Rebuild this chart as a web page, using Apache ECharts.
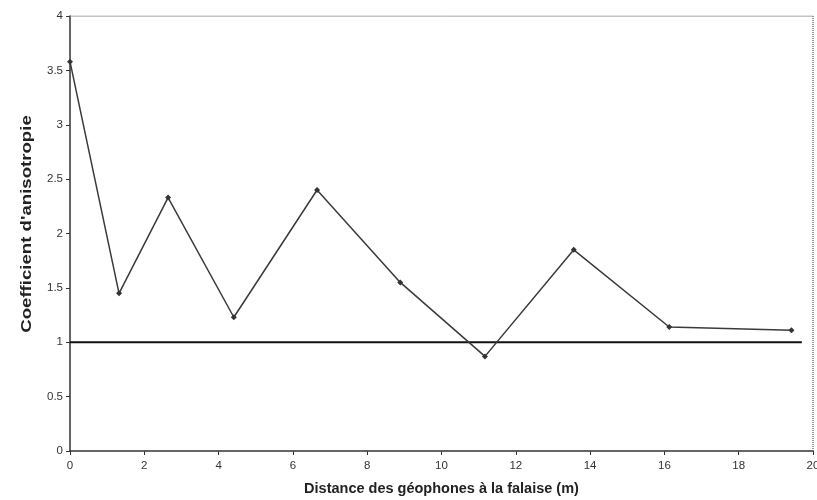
<!DOCTYPE html>
<html>
<head>
<meta charset="utf-8">
<script src="https://cdn.jsdelivr.net/npm/echarts@6/dist/echarts.min.js"></script>
<style>
  html, body { margin: 0; padding: 0; background: #fff; }
  #chart { width: 817px; height: 500px; }
</style>
</head>
<body>
<div id="chart"></div>
<script>
// Geophone distance from the cliff (m) and measured anisotropy coefficient
const distances = [0, 1.32, 2.64, 4.41, 6.65, 8.89, 11.17, 13.56, 16.13, 19.42];
const anisotropy = [3.58, 1.45, 2.33, 1.23, 2.40, 1.55, 0.87, 1.85, 1.14, 1.11];

// Isotropic reference level
const referenceX = [0, 19.7];
const referenceY = [1, 1];

const xTicks = [0, 2, 4, 6, 8, 10, 12, 14, 16, 18, 20];
const yTicks = [0, 0.5, 1, 1.5, 2, 2.5, 3, 3.5, 4];

const xTitle = 'Distance des géophones à la falaise (m)';
const yTitle = "Coefficient d'anisotropie";

const font = 'Liberation Sans, Arial, sans-serif';

const chart = echarts.init(document.getElementById('chart'));
chart.setOption({
  backgroundColor: '#ffffff',
  animation: false,
  grid: { left: 70, right: 4, top: 16, bottom: 49, show: false, containLabel: false, outerBoundsMode: 'none' },
  graphic: [
    {
      type: 'text',
      x: 27,
      y: 224,
      rotation: Math.PI / 2,
      scaleX: 1.33,
      style: {
        text: yTitle,
        fill: '#222',
        font: 'bold 14px ' + font,
        align: 'center',
        verticalAlign: 'middle'
      }
    }
  ],
  xAxis: {
    type: 'value',
    min: xTicks[0],
    max: xTicks[xTicks.length - 1],
    interval: 2,
    name: xTitle,
    nameLocation: 'middle',
    nameGap: 30,
    nameTextStyle: { fontFamily: font, fontSize: 14.5, fontWeight: 'bold', color: '#222' },
    axisLine: { show: true, lineStyle: { color: '#333', width: 1.5 } },
    axisTick: { show: true, inside: false, length: 4, lineStyle: { color: '#333' } },
    axisLabel: { fontFamily: font, fontSize: 11.5, color: '#333', margin: 9 },
    splitLine: { show: false }
  },
  yAxis: {
    type: 'value',
    min: yTicks[0],
    max: yTicks[yTicks.length - 1],
    interval: 0.5,
    axisLine: { show: true, lineStyle: { color: '#333', width: 1.5 } },
    axisTick: { show: true, inside: false, length: 4, lineStyle: { color: '#333' } },
    axisLabel: { fontFamily: font, fontSize: 11.5, color: '#333', margin: 7 },
    splitLine: { show: false }
  },
  series: [
    // top frame edge
    {
      type: 'line',
      data: [[0, 4], [20, 4]],
      symbol: 'none',
      lineStyle: { color: '#888', width: 1 },
      silent: true
    },
    // right frame edge, dotted
    {
      type: 'line',
      data: [[20, 0], [20, 4]],
      symbol: 'none',
      lineStyle: { color: '#777', width: 1.5, type: [1, 1] },
      silent: true
    },
    {
      type: 'line',
      name: 'reference',
      data: referenceX.map((x, i) => [x, referenceY[i]]),
      symbol: 'none',
      lineStyle: { color: '#111', width: 2 },
      z: 3
    },
    {
      type: 'line',
      name: yTitle,
      data: distances.map((x, i) => [x, anisotropy[i]]),
      symbol: 'diamond',
      symbolSize: 6,
      itemStyle: { color: '#333' },
      lineStyle: { color: '#3a3a3a', width: 1.5 },
      z: 4
    }
  ]
});
</script>
</body>
</html>
